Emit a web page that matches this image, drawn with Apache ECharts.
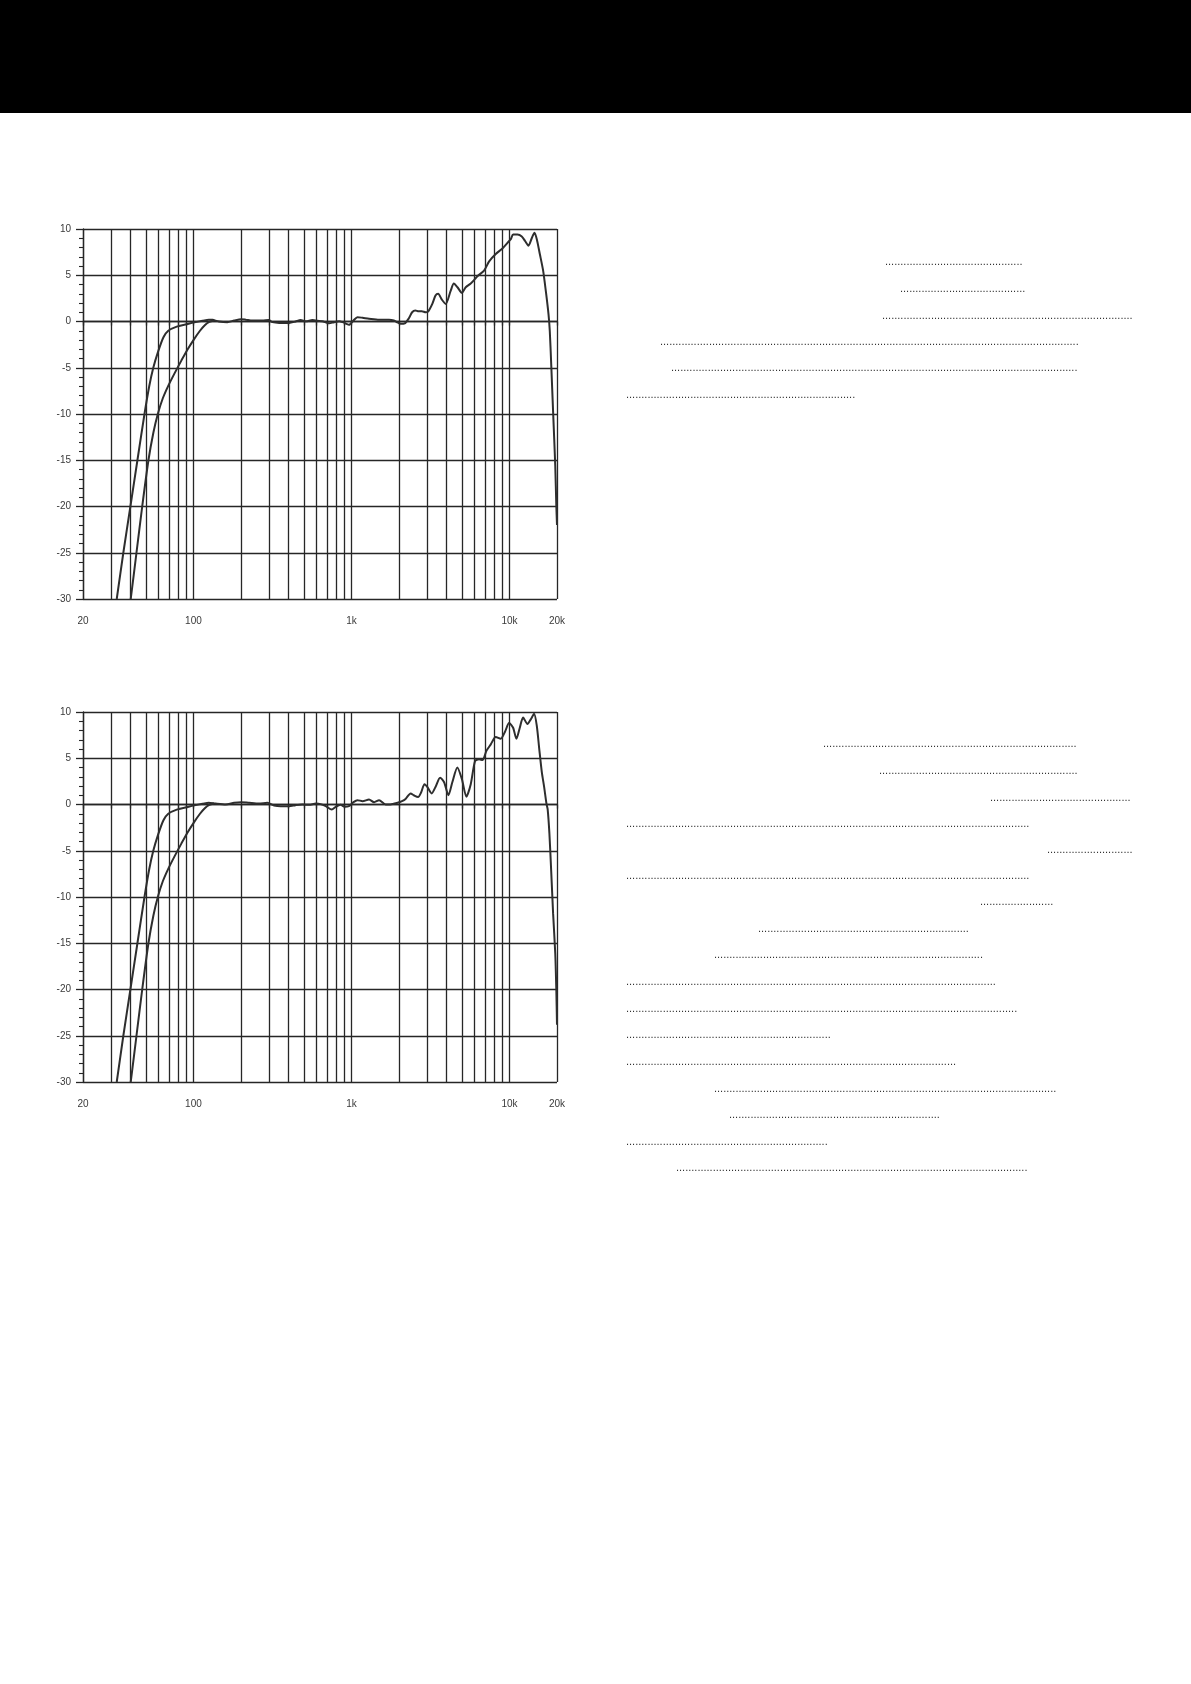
<!DOCTYPE html>
<html>
<head>
<meta charset="utf-8">
<title>Frequency response</title>
<script src="https://cdn.jsdelivr.net/npm/echarts@6/dist/echarts.min.js"></script>
<style>
  html, body { margin: 0; padding: 0; background: #fff; }
  #main { width: 1191px; height: 1684px; }
</style>
</head>
<body>
<div id="main"></div>
<script>
// grid / tick values of the frequency axis (Hz)
const freqGrid = [20, 30, 40, 50, 60, 70, 80, 90, 100, 200, 300, 400, 500, 600, 700, 800, 900,
  1000, 2000, 3000, 4000, 5000, 6000, 7000, 8000, 9000, 10000, 20000];
const freqLabels = [20, 100, 1000, 10000, 20000];

// upper chart, main curve
const freqTop = [32.7, 36, 39.9, 44.2, 49, 52.5, 55.7, 59.9, 64.6, 69.3, 78.4, 90.6, 100,
  114, 125, 132, 145, 164, 181, 200, 214, 236, 273, 300, 316, 349, 403, 443, 477, 515, 566, 609, 654,
  722, 776, 836, 878, 929, 965, 1030, 1091, 1177, 1292, 1496, 1730, 1856, 1960, 2050, 2175, 2310,
  2422, 2538, 2660, 2788, 2950, 3064, 3250, 3404, 3540, 3726, 3950, 4245, 4448, 4690, 5000, 5290,
  5690, 6060, 6270, 6910, 7440, 8190, 9030, 9710, 10200, 10550, 11240, 11970, 12560, 13190, 13840,
  14400, 14900, 15570, 16340, 16990, 17670, 18000, 18400, 18900, 19500, 19800, 20000];
const dbTop = [-30, -25, -20, -15, -10, -7, -5, -3.2, -1.7, -1.0, -0.55, -0.3, -0.1,
  0.07, 0.2, 0.18, 0.0, -0.07, 0.1, 0.25, 0.2, 0.1, 0.1, 0.15, -0.07, -0.15, -0.15, 0.0, 0.15, 0.03,
  0.15, 0.07, 0.03, -0.2, -0.07, 0.03, -0.07, -0.25, -0.36, 0.1, 0.47, 0.4, 0.3, 0.18, 0.18, 0.1,
  -0.1, -0.25, -0.2, 0.35, 1.0, 1.2, 1.1, 1.1, 1.0, 1.1, 1.9, 2.8, 3.0, 2.4, 1.9, 3.3, 4.1, 3.7, 3.1,
  3.7, 4.1, 4.6, 4.9, 5.5, 6.5, 7.3, 7.9, 8.5, 8.9, 9.4, 9.4, 9.2, 8.7, 8.2, 9.0, 9.6, 8.9, 7.3, 5.5,
  3.3, 0.8, -1.0, -4.8, -9.8, -15.6, -19.9, -22];

// upper chart, second low-frequency curve
const freqTopAlt = [40.1, 43.6, 47.4, 51.9, 55.8, 59.5, 64, 69.5, 76.5, 84, 92, 101, 110, 118,
  126, 135];
const dbTopAlt = [-30, -25, -20, -15, -12, -10, -8.3, -6.9, -5.5, -4.2, -3.0, -1.9, -1.0, -0.4,
  -0.05, 0.1];

// lower chart, main curve
const freqBottom = [32.7, 36, 39.9, 44.2, 49, 52.5, 55.7, 59.9, 64.6, 69.3, 78.4, 90.6, 100,
  114, 125, 138, 160, 181, 200, 225, 260, 294, 324, 357, 403, 443, 489, 540, 595, 638, 688, 751, 795,
  855, 906, 964, 1030, 1091, 1177, 1292, 1390, 1496, 1645, 1762, 1960, 2090, 2200, 2370, 2480, 2640,
  2760, 2900, 3020, 3220, 3404, 3640, 3860, 4110, 4350, 4680, 5000, 5340, 5690, 6060, 6430, 6750,
  7150, 7620, 8190, 8810, 9390, 9950, 10550, 11070, 11630, 12200, 13000, 13640, 14320, 14900, 15420,
  16030, 16580, 17150, 17450, 17900, 18400, 18900, 19500, 19800, 20000];
const dbBottom = [-30, -25, -20, -15, -10, -7, -5, -3.2, -1.7, -1.0, -0.55, -0.3, -0.1,
  0.07, 0.2, 0.1, 0.0, 0.18, 0.25, 0.18, 0.1, 0.18, -0.1, -0.18, -0.18, -0.07, 0.0, -0.04, 0.1, 0.04,
  -0.18, -0.54, -0.25, -0.04, -0.25, -0.18, 0.25, 0.47, 0.36, 0.54, 0.25, 0.47, 0.0, 0.0, 0.18, 0.36,
  0.6, 1.2, 1.0, 0.8, 1.3, 2.2, 1.9, 1.2, 1.9, 2.9, 2.4, 1.0, 2.4, 4.0, 2.75, 0.85, 2.2, 4.7, 4.9, 4.8,
  5.8, 6.5, 7.3, 7.1, 7.9, 8.8, 8.3, 7.1, 8.3, 9.4, 8.7, 9.2, 9.8, 8.5, 6.1, 3.5, 1.9, 0.1, -0.5,
  -3.1, -7.4, -11.8, -16.1, -20, -23.8];

// lower chart, second low-frequency curve
const freqBottomAlt = [40.1, 43.6, 47.4, 51.9, 55.8, 59.5, 64, 69.5, 76.5, 84, 92, 101, 110, 118,
  126, 135];
const dbBottomAlt = [-30, -25, -20, -15, -12, -10, -8.3, -6.9, -5.5, -4.2, -3.0, -1.9, -1.0, -0.4,
  -0.05, 0.1];

const pairs = (xs, ys) => xs.map((x, i) => [x, ys[i]]);

// dotted leader rows beside the charts: [left, right, y]
const leaderRows = [
  [885, 1024, 263], [900, 1024, 290], [882, 1132, 317], [660, 1078, 343], [671, 1078, 369],
  [626, 854, 396],
  [823, 1078, 745], [879, 1078, 772], [990, 1132, 799], [626, 1030, 825], [1047, 1132, 851],
  [626, 1030, 877], [980, 1053, 903], [758, 968, 930], [714, 982, 956], [626, 997, 983],
  [626, 1019, 1010], [626, 832, 1036], [626, 956, 1063], [714, 1057, 1090], [729, 941, 1116],
  [626, 827, 1143], [676, 1027, 1169]
];

const chart = echarts.init(document.getElementById('main'));
const ink = '#262626';
const labelFont = { color: '#3a3a3a', fontSize: 10, fontFamily: 'Liberation Sans' };

function fmtFreq(v) {
  return v >= 1000 ? (v / 1000) + 'k' : String(v);
}

function xAxisFor(gi) {
  return {
    type: 'log', logBase: 10, gridIndex: gi, min: 20, max: 20000,
    axisLine: { show: true, lineStyle: { color: ink, width: 1.3 } },
    axisTick: { show: true, length: 4, customValues: freqGrid, lineStyle: { color: ink, width: 1.3 } },
    splitLine: { show: true, lineStyle: { color: ink, width: 1.3 } },
    axisLabel: Object.assign({ customValues: freqLabels, margin: 17, formatter: fmtFreq,
      showMinLabel: true, showMaxLabel: true, hideOverlap: false }, labelFont)
  };
}

function yAxisFor(gi) {
  return {
    type: 'value', gridIndex: gi, min: -30, max: 10, interval: 5,
    axisLine: { show: true, lineStyle: { color: ink, width: 1.3 } },
    axisTick: { show: true, length: 7, lineStyle: { color: ink, width: 1.3 } },
    minorTick: { show: true, splitNumber: 5, length: 4, lineStyle: { color: ink, width: 1.1 } },
    splitLine: { show: true, lineStyle: { color: ink, width: 1.3 } },
    axisLabel: Object.assign({ margin: 12 }, labelFont)
  };
}

function curve(gi, data) {
  return {
    type: 'line', xAxisIndex: gi, yAxisIndex: gi, data: data,
    showSymbol: false, smooth: 0.25, silent: true, animation: false,
    lineStyle: { color: '#2e2e2e', width: 2 }
  };
}

const leaders = leaderRows.map(r => ({
  type: 'text', left: r[0], top: r[2] - 7, silent: true,
  style: {
    text: '.'.repeat(Math.round((r[1] - r[0]) / 3.06)),
    fill: '#333', fontSize: 11, fontFamily: 'Liberation Sans'
  }
}));

const option = {
  animation: false,
  backgroundColor: '#fff',
  grid: [
    { left: 83, top: 229, width: 474, height: 370 },
    { left: 83, top: 712, width: 474, height: 370 }
  ],
  xAxis: [xAxisFor(0), xAxisFor(1)],
  yAxis: [yAxisFor(0), yAxisFor(1)],
  series: [
    curve(0, pairs(freqTop, dbTop)),
    curve(0, pairs(freqTopAlt, dbTopAlt)),
    curve(1, pairs(freqBottom, dbBottom)),
    curve(1, pairs(freqBottomAlt, dbBottomAlt))
  ],
  graphic: [
    { type: 'rect', left: 0, top: 0, shape: { width: 1191, height: 113 }, style: { fill: '#000' } }
  ].concat(leaders)
};

chart.setOption(option);
</script>
</body>
</html>
